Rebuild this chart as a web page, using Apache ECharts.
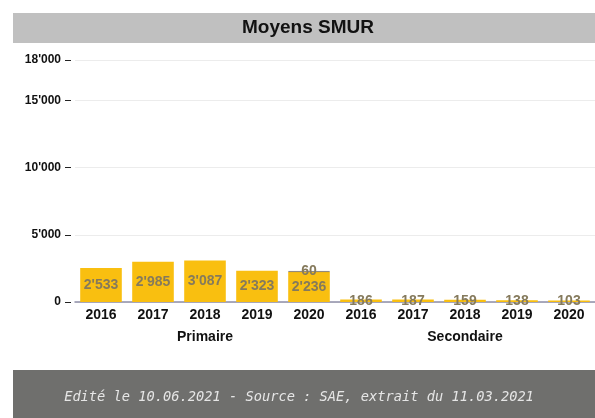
<!DOCTYPE html>
<html>
<head>
<meta charset="utf-8">
<script src="https://cdn.jsdelivr.net/npm/echarts@6/dist/echarts.min.js"></script>
<style>
  html, body { margin: 0; padding: 0; background: #fff; }
  #chart { width: 595px; height: 418px; }
</style>
</head>
<body>
<div id="chart"></div>
<script>
// données
const years = ['2016', '2017', '2018', '2019', '2020', '2016', '2017', '2018', '2019', '2020'];
const groups = ['Primaire', 'Secondaire'];
const moyens = [2533, 2985, 3087, 2323, 2236, 186, 187, 159, 138, 103];
const moyensExtra = ['-', '-', '-', '-', 60, '-', '-', '-', '-', '-'];
const yTicks = [0, 5000, 10000, 15000, 18000];

const fmt = v => String(v).replace(/\B(?=(\d{3})+(?!\d))/g, "'");

const chart = echarts.init(document.getElementById('chart'), null, { renderer: 'canvas' });

const labelStyle = {
  show: true, position: 'inside', color: '#857a5c',
  fontFamily: 'Liberation Sans Narrow, Liberation Sans, Arial', fontWeight: 'bold', fontSize: 14,
  formatter: p => fmt(p.value)
};

chart.setOption({
  animation: false,
  graphic: [
    { type: 'rect', shape: { x: 13, y: 13, width: 582, height: 30 }, style: { fill: '#c0c0c0' } },
    { type: 'text', x: 308, y: 28, style: { text: 'Moyens SMUR', font: 'bold 19px Liberation Sans, Arial', fill: '#111', align: 'center', verticalAlign: 'middle' } },
    { type: 'rect', shape: { x: 13, y: 370, width: 582, height: 48 }, style: { fill: '#6f6f6d' } },
    { type: 'text', x: 299, y: 397, style: { text: 'Edité le 10.06.2021 - Source : SAE, extrait du 11.03.2021', font: 'italic 13.7px DejaVu Sans Mono', fill: '#e6e6e6', align: 'center', verticalAlign: 'middle' } }
  ],
  grid: { left: 75, right: 0, top: 60, bottom: 116 },
  xAxis: [
    {
      type: 'category', data: years,
      axisLine: { lineStyle: { color: '#8e8ea8', width: 1.5 } },
      axisTick: { show: false },
      axisLabel: { color: '#111', fontWeight: 'bold', fontSize: 14, margin: 6, fontFamily: 'Liberation Sans Narrow, Liberation Sans, Arial' }
    },
    {
      type: 'category', data: groups, position: 'bottom', offset: 22,
      axisLine: { show: false }, axisTick: { show: false },
      axisLabel: { color: '#111', fontWeight: 'bold', fontSize: 14, margin: 6, fontFamily: 'Liberation Sans, Arial' }
    }
  ],
  yAxis: {
    type: 'value', min: 0, max: 18000, offset: 4,
    customValues: yTicks,
    axisLine: { show: false },
    axisTick: { show: true, length: 6, lineStyle: { color: '#222' }, customValues: yTicks },
    axisLabel: { color: '#111', fontWeight: 'bold', fontSize: 12, margin: 10, fontFamily: 'Liberation Sans, Arial', formatter: v => fmt(v), customValues: yTicks },
    splitLine: { lineStyle: { color: '#ececec' } }
  },
  series: [
    {
      name: 'Moyens', type: 'bar', stack: 'total', data: moyens, barWidth: '80%',
      itemStyle: { color: '#f9bf10' }, label: labelStyle
    },
    {
      name: 'Autres', type: 'bar', stack: 'total', data: moyensExtra, barWidth: '80%',
      itemStyle: { color: '#7c7468', borderColor: '#7c7468', borderWidth: 0.6 }, label: labelStyle
    }
  ]
});
</script>
</body>
</html>
